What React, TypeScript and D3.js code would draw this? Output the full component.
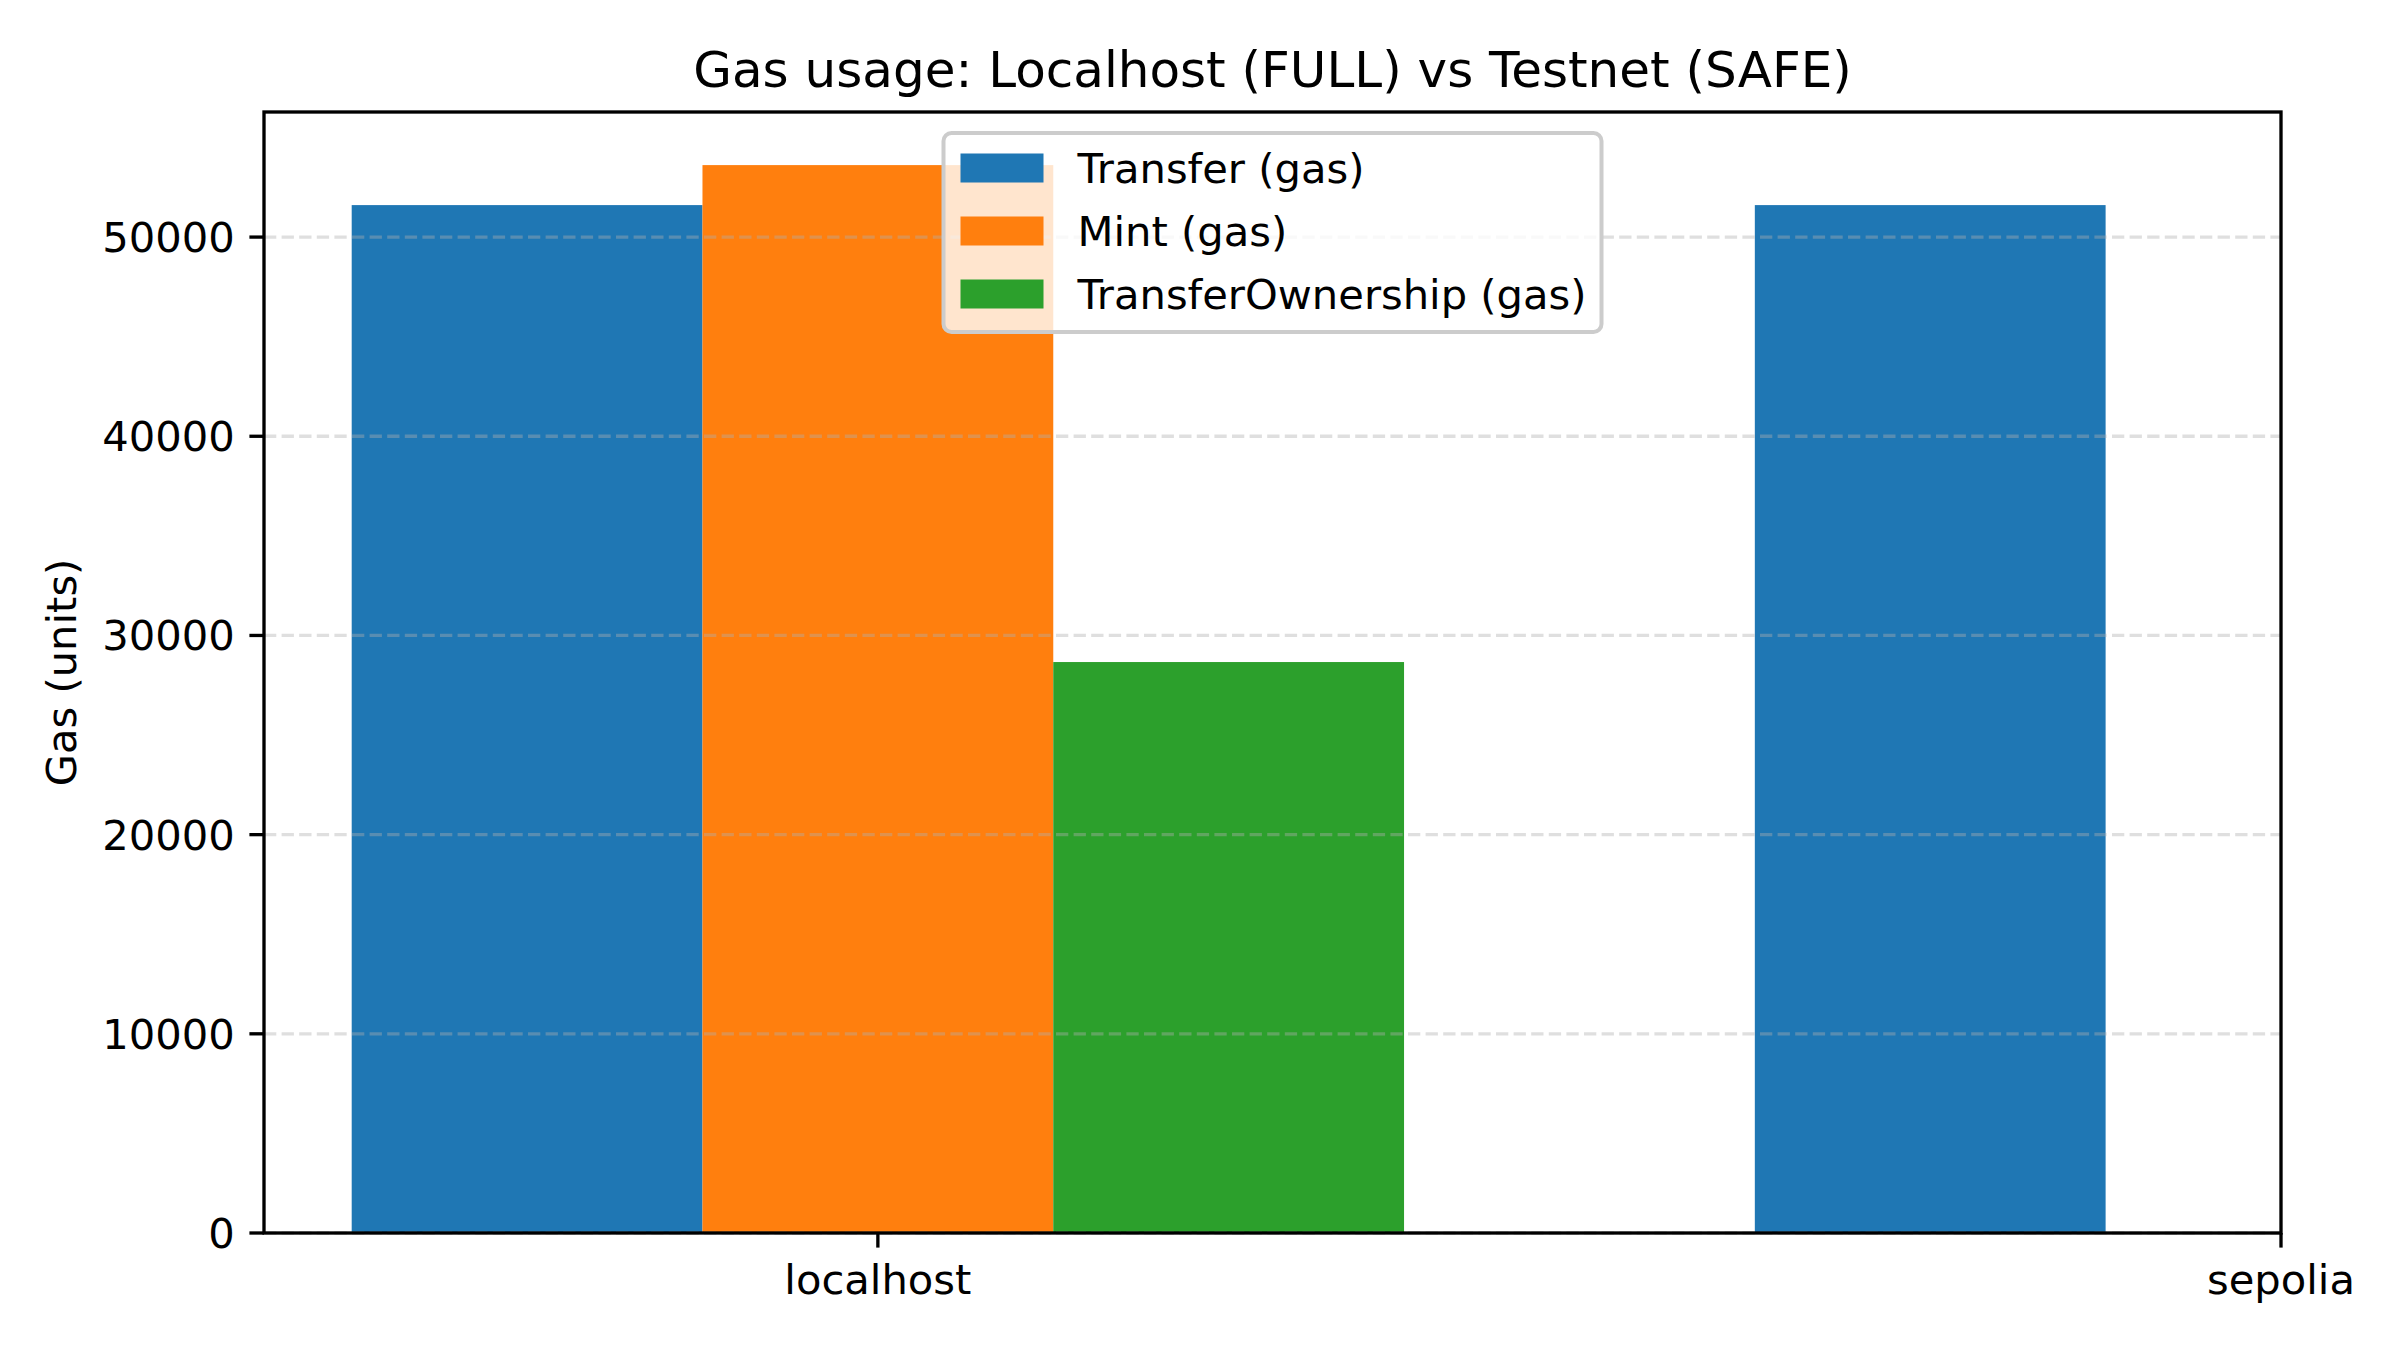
import React from "react";
import { scaleLinear } from "d3";

// data
const networks = ["localhost", "sepolia"];
const seriesNames = ["Transfer (gas)", "Mint (gas)", "TransferOwnership (gas)"];
const transferGas = [51606, 51606];
const mintGas: (number | null)[] = [53614, null];
const ownershipGas: (number | null)[] = [28665, null];
const yTicks = [0, 10000, 20000, 30000, 40000, 50000];
const colors = ["#1f77b4", "#ff7f0e", "#2ca02c"];

const W = 2400;
const H = 1350;
const margin = { left: 264, right: 119, top: 112, bottom: 117 };
const FS = 41.67;
const font = "'DejaVu Sans', sans-serif";

export default function App() {
  const x = scaleLinear()
    .domain([-0.4375, 1.0])
    .range([margin.left, W - margin.right]);
  const y = scaleLinear()
    .domain([0, 56280])
    .range([H - margin.bottom, margin.top]);

  const barW = 0.25;
  // each series sits at an offset from the network position
  const series = [transferGas, mintGas, ownershipGas];
  const offsets = [-0.25, 0, 0.25];

  const x0 = x.range()[0];
  const x1 = x.range()[1];
  const yb = y(0);
  const yt = y.range()[1];
  const tickLen = 14.6;
  const lw = 3.33;

  const legendCx = (x0 + x1) / 2;
  const legendW = 658;
  const legendTop = 133;
  const rowH = 63;

  return (
    <svg
      width={W}
      height={H}
      style={{ position: "absolute", left: 0, top: 0, background: "#fff" }}
      fontFamily={font}
    >
      <rect width={W} height={H} fill="#fff" />

      {/* bars */}
      {series.map((vals, si) =>
        vals.map((v, ni) =>
          v == null ? null : (
            <rect
              key={`${si}-${ni}`}
              x={x(ni + offsets[si] - barW / 2)}
              width={x(barW) - x(0)}
              y={y(v)}
              height={yb - y(v)}
              fill={colors[si]}
            />
          )
        )
      )}

      {/* grid, drawn over the bars */}
      {yTicks.map((t) => (
        <line
          key={t}
          x1={x0}
          x2={x1}
          y1={y(t)}
          y2={y(t)}
          stroke="#b0b0b0"
          strokeOpacity={0.4}
          strokeWidth={lw}
          strokeDasharray="12.3 5.3"
        />
      ))}

      {/* spines */}
      <rect
        x={x0}
        y={yt}
        width={x1 - x0}
        height={yb - yt}
        fill="none"
        stroke="#000"
        strokeWidth={lw}
      />

      {/* y axis */}
      {yTicks.map((t) => (
        <g key={t}>
          <line x1={x0 - tickLen} x2={x0} y1={y(t)} y2={y(t)} stroke="#000" strokeWidth={lw} />
          <text
            x={x0 - tickLen - 14.6}
            y={y(t)}
            dy="0.36em"
            textAnchor="end"
            fontSize={FS}
            fill="#000"
          >
            {t}
          </text>
        </g>
      ))}

      {/* x axis */}
      {networks.map((n, i) => (
        <g key={n}>
          <line x1={x(i)} x2={x(i)} y1={yb} y2={yb + tickLen} stroke="#000" strokeWidth={lw} />
          <text
            x={x(i)}
            y={yb + tickLen + 14.6}
            dy="0.76em"
            textAnchor="middle"
            fontSize={FS}
            fill="#000"
          >
            {n}
          </text>
        </g>
      ))}

      <text
        transform={`translate(61, ${(yt + yb) / 2}) rotate(-90)`}
        textAnchor="middle"
        dy="0.36em"
        fontSize={FS}
        fill="#000"
      >
        Gas (units)
      </text>

      <text x={legendCx} y={87} textAnchor="middle" fontSize={50} fill="#000">
        Gas usage: Localhost (FULL) vs Testnet (SAFE)
      </text>

      {/* legend */}
      <g>
        <rect
          x={legendCx - legendW / 2}
          y={legendTop}
          width={legendW}
          height={199}
          rx={8}
          fill="#fff"
          fillOpacity={0.8}
          stroke="#cccccc"
          strokeWidth={4}
        />
        {seriesNames.map((s, i) => {
          const cy = legendTop + 35 + i * rowH;
          return (
            <g key={s}>
              <rect
                x={legendCx - legendW / 2 + 17}
                y={cy - 14.5}
                width={83}
                height={29}
                fill={colors[i]}
              />
              <text
                x={legendCx - legendW / 2 + 134}
                y={cy}
                dy="0.36em"
                fontSize={FS}
                fill="#000"
              >
                {s}
              </text>
            </g>
          );
        })}
      </g>
    </svg>
  );
}
